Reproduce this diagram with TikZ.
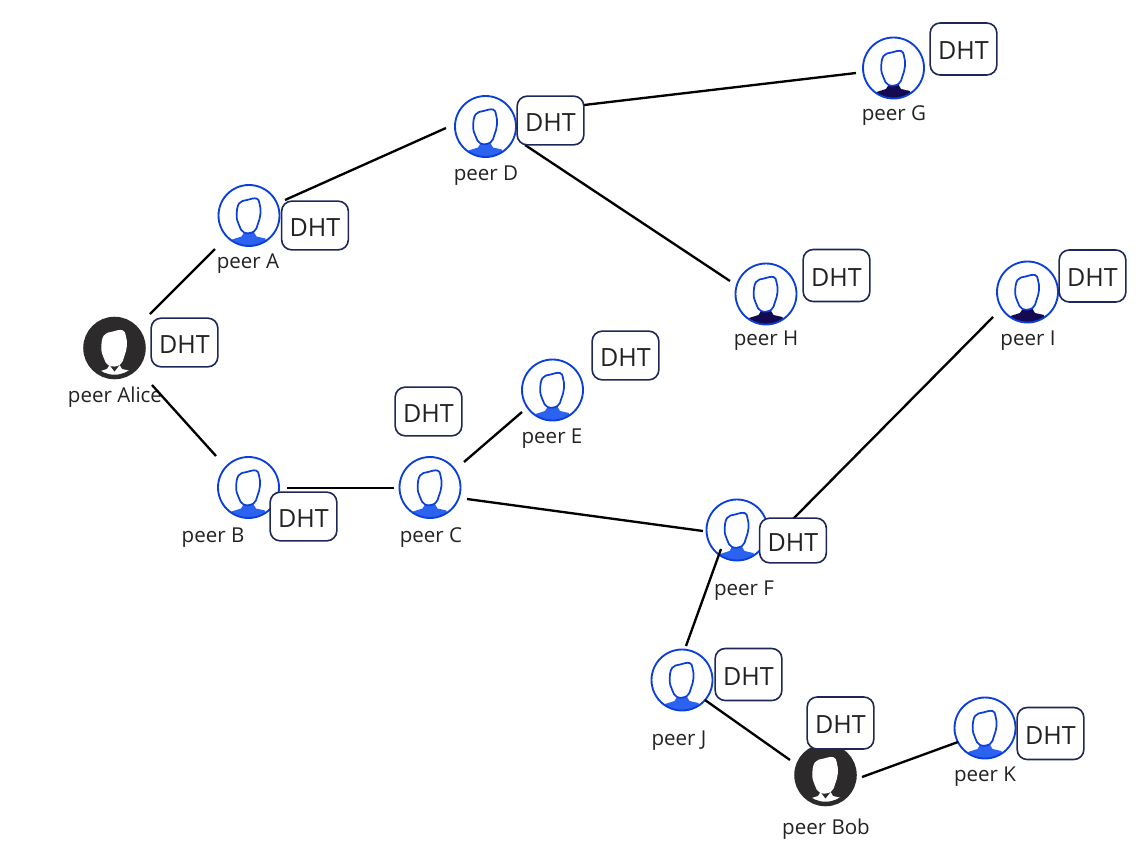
\documentclass[tikz,border=0pt]{standalone}
\usepackage{fontspec}
\setmainfont{Open Sans}
\definecolor{ringblue}{HTML}{0B3FD9}
\definecolor{shoulderblue}{HTML}{2B62F0}
\definecolor{shouldernavy}{HTML}{140A50}
\definecolor{darkdisc}{HTML}{2C2A2A}
\definecolor{boxnavy}{HTML}{1E2858}
\definecolor{inktext}{HTML}{222222}
\newcommand{\dhtword}{\raisebox{-1.5pt}[\height][0pt]{DHT}}
\tikzset{
  x=0.75pt,y=-0.75pt,
  personbase/.style n args={5}{circle,inner sep=0pt,draw=#1,fill=#2,
    path picture={
      \begin{scope}[shift={(path picture bounding box.center)}]
        \fill[#4] (-5,17) -- (-7.5,21) -- (-17,24) -- (-19,40) -- (19,40) -- (16.5,23) -- (7.5,21) -- (4.5,16) -- cycle;
        \fill[#5] (-5,17) -- (0,23.5) -- (5,17) -- cycle;
        \draw[draw=#3,fill=white,line width=1.3pt] plot[smooth cycle,tension=0.7] coordinates
          {(-10,-12) (-2,-15.5) (7.5,-17) (10.5,-12) (11.5,-2) (9,8) (5,16) (-5,17) (-10,9.5) (-12.3,0)};
      \end{scope}
    }},
  personblue/.style={personbase={ringblue}{white}{ringblue}{shoulderblue}{shoulderblue},minimum size=45.75pt,line width=1.4pt},
  personnavy/.style={personbase={ringblue}{white}{ringblue}{shouldernavy}{shouldernavy},minimum size=45.75pt,line width=1.4pt},
  persondark/.style={personbase={darkdisc}{darkdisc}{white}{white}{darkdisc},minimum size=43.5pt,line width=3.4pt},
  peerlabel/.style={inner sep=0pt,text=inktext,font=\fontsize{15.4pt}{18pt}\selectfont},
  dhtbox/.style={draw=boxnavy,fill=white,line width=1.2pt,rounded corners=7.5pt,inner sep=0pt,
    minimum width=50pt,minimum height=36.5pt,text=inktext,font=\fontsize{18.8pt}{22pt}\selectfont},
  dhttall/.style={dhtbox,minimum height=39pt},
  dhtshort/.style={dhtbox,minimum height=33.5pt},
  link/.style={draw=black,line width=1.75pt}
}
\begin{document}
\begin{tikzpicture}
\useasboundingbox (0,0) rectangle (1141,853);
% peers
\node[persondark] (alice) at (114.5,348) {};
\node[personblue] (A) at (249,215.5) {};
\node[personblue] (D) at (485.5,126.5) {};
\node[personnavy] (G) at (893.5,68) {};
\node[personnavy] (H) at (766,294) {};
\node[personnavy] (I) at (1027.5,292) {};
\node[personblue] (E) at (552.5,390) {};
\node[personblue] (C) at (430,487.5) {};
\node[personblue] (B) at (248.5,487.5) {};
\node[personblue] (F) at (737,530) {};
\node[personblue] (J) at (682,680) {};
\node[persondark] (bob) at (825.5,775) {};
\node[personblue] (K) at (985,728) {};
% labels
\node[peerlabel] (lalice) at (115,397) {peer Alice};
\node[peerlabel] (lA) at (248,264) {peer A};
\node[peerlabel] (lD) at (486,176) {peer D};
\node[peerlabel] (lG) at (894,116) {peer G};
\node[peerlabel] (lH) at (766,341) {peer H};
\node[peerlabel] (lI) at (1028,341) {peer I};
\node[peerlabel] (lE) at (552,439) {peer E};
\node[peerlabel] (lC) at (431,538) {peer C};
\node[peerlabel] (lB) at (213,538) {peer B};
\node[peerlabel] (lF) at (744,591) {peer F};
\node[peerlabel] (lJ) at (679,741) {peer J};
\node[peerlabel] (lbob) at (826,829) {peer Bob};
\node[peerlabel] (lK) at (985,777) {peer K};
% connectors
\draw[link] ([shift={(35.5,-34)}]alice.center) -- ([shift={(-34,33.5)}]A.center);
\draw[link] ([shift={(36,-15.5)}]A.center) -- ([shift={(-39.5,1.5)}]D.center);
\draw[link] ([shift={(98.5,-21.5)}]D.center) -- ([shift={(-37.5,5)}]G.center);
\draw[link] ([shift={(39.5,18.5)}]D.center) -- ([shift={(-36,-13)}]H.center);
\draw[link] ([shift={(37.5,37)}]alice.center) -- ([shift={(-32.5,-31.5)}]B.center);
\draw[link] ([shift={(38.5,0.5)}]B.center) -- ([shift={(-36,0.5)}]C.center);
\draw[link] ([shift={(34,-25.5)}]C.center) -- ([shift={(-30.5,22)}]E.center);
\draw[link] ([shift={(37,11.5)}]C.center) -- ([shift={(-34,1)}]F.center);
\draw[link] ([shift={(56,-11)}]F.center) -- ([shift={(-34.5,25)}]I.center);
\draw[link] ([shift={(-16,19)}]F.center) -- ([shift={(4,-34)}]J.center);
\draw[link] ([shift={(23,20)}]J.center) -- ([shift={(-35.5,-15)}]bob.center);
\draw[link] ([shift={(36.5,2)}]bob.center) -- ([shift={(-27,14)}]K.center);
% DHT boxes
\node[dhtbox] (dalice) at (184.5,342.5) {\dhtword};
\node[dhtbox] (dA) at (315,225.5) {\dhtword};
\node[dhtbox] (dD) at (550.5,120.5) {\dhtword};
\node[dhttall] (dG) at (963.5,49) {\dhtword};
\node[dhttall] (dH) at (836.5,275.5) {\dhtword};
\node[dhttall] (dI) at (1092.5,276) {\dhtword};
\node[dhtbox] (dE) at (625.5,355.5) {\dhtword};
\node[dhtbox] (dC) at (428.5,411.5) {\dhtword};
\node[dhtbox] (dB) at (303.5,516.5) {\dhtword};
\node[dhtshort] (dF) at (793,540.5) {\dhtword};
\node[dhttall] (dJ) at (748.5,674.5) {\dhtword};
\node[dhttall] (dbob) at (840.5,723) {\dhtword};
\node[dhttall] (dK) at (1050.5,733.5) {\dhtword};
\end{tikzpicture}
\end{document}
